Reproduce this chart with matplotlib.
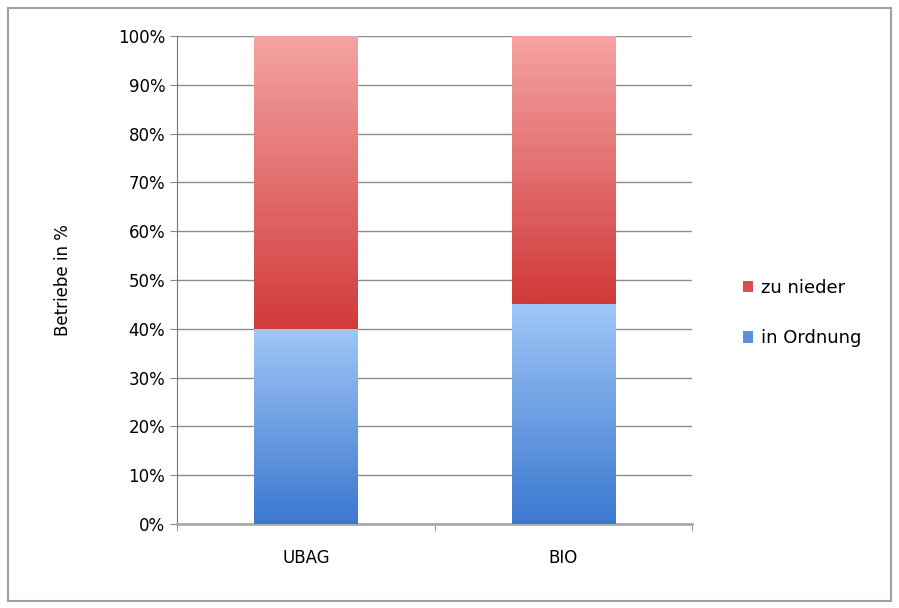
import matplotlib.pyplot as plt
import numpy as np
from matplotlib.colors import LinearSegmentedColormap
from matplotlib.patches import Rectangle
from matplotlib.ticker import PercentFormatter

# data: share of farms in %
categories = ['UBAG', 'BIO']
in_ordnung = [40, 45]
zu_nieder = [60, 55]

fig = plt.figure(figsize=(8.99, 6.08), dpi=100)
fig.patches.append(Rectangle((0.009, 0.012), 0.982, 0.975, transform=fig.transFigure,
                             fill=False, edgecolor='#a0a0a0', linewidth=1.5))
ax = fig.add_axes([0.197, 0.138, 0.573, 0.803])

x = np.arange(len(categories))
width = 0.4
blue_cmap = LinearSegmentedColormap.from_list('b', ['#3b78cf', '#9fc6f7'])
red_cmap = LinearSegmentedColormap.from_list('r', ['#d13a3a', '#f5a3a3'])

grad = np.linspace(0, 1, 256).reshape(-1, 1)
bars_b = ax.bar(x, in_ordnung, width, color='#5a90dc', label='in Ordnung', zorder=3)
bars_r = ax.bar(x, zu_nieder, width, bottom=in_ordnung, color='#d94f4f', label='zu nieder', zorder=3)
for bars, cmap in [(bars_b, blue_cmap), (bars_r, red_cmap)]:
    for b in bars:
        x0, y0 = b.get_x(), b.get_y()
        im = ax.imshow(grad, cmap=cmap, origin='lower', aspect='auto',
                       extent=[x0, x0 + b.get_width(), y0, y0 + b.get_height()], zorder=4)
        im.set_clip_path(b)

ax.set_xlim(-0.5, 1.5)
ax.set_ylim(0, 100)
ax.set_yticks(np.arange(0, 101, 10))
ax.yaxis.set_major_formatter(PercentFormatter(decimals=0))
ax.set_xticks(x)
ax.set_xticklabels(categories, fontsize=12)
ax.set_xticks([-0.5, 0.5, 1.5], minor=True)
ax.tick_params(axis='x', which='major', length=0, pad=18)
ax.tick_params(axis='x', which='minor', length=5, color='#888888')
ax.tick_params(axis='y', labelsize=12, length=5, color='#888888')
ax.grid(axis='y', color='#8c8c8c', linewidth=1, zorder=0)
for s in ['top', 'right']:
    ax.spines[s].set_visible(False)
ax.spines['left'].set_color('#777777')
ax.spines['bottom'].set_color('#aaaaaa')
ax.spines['bottom'].set_linewidth(2)
ax.set_ylabel('Betriebe in %', fontsize=12, labelpad=33)

handles, labels = ax.get_legend_handles_labels()
fig.legend(handles[::-1], labels[::-1], loc='center left', bbox_to_anchor=(0.808, 0.485),
           frameon=False, fontsize=13, handlelength=0.6, handleheight=0.6,
           handletextpad=0.4, labelspacing=1.8)

fig.savefig('out.png', dpi=100)
